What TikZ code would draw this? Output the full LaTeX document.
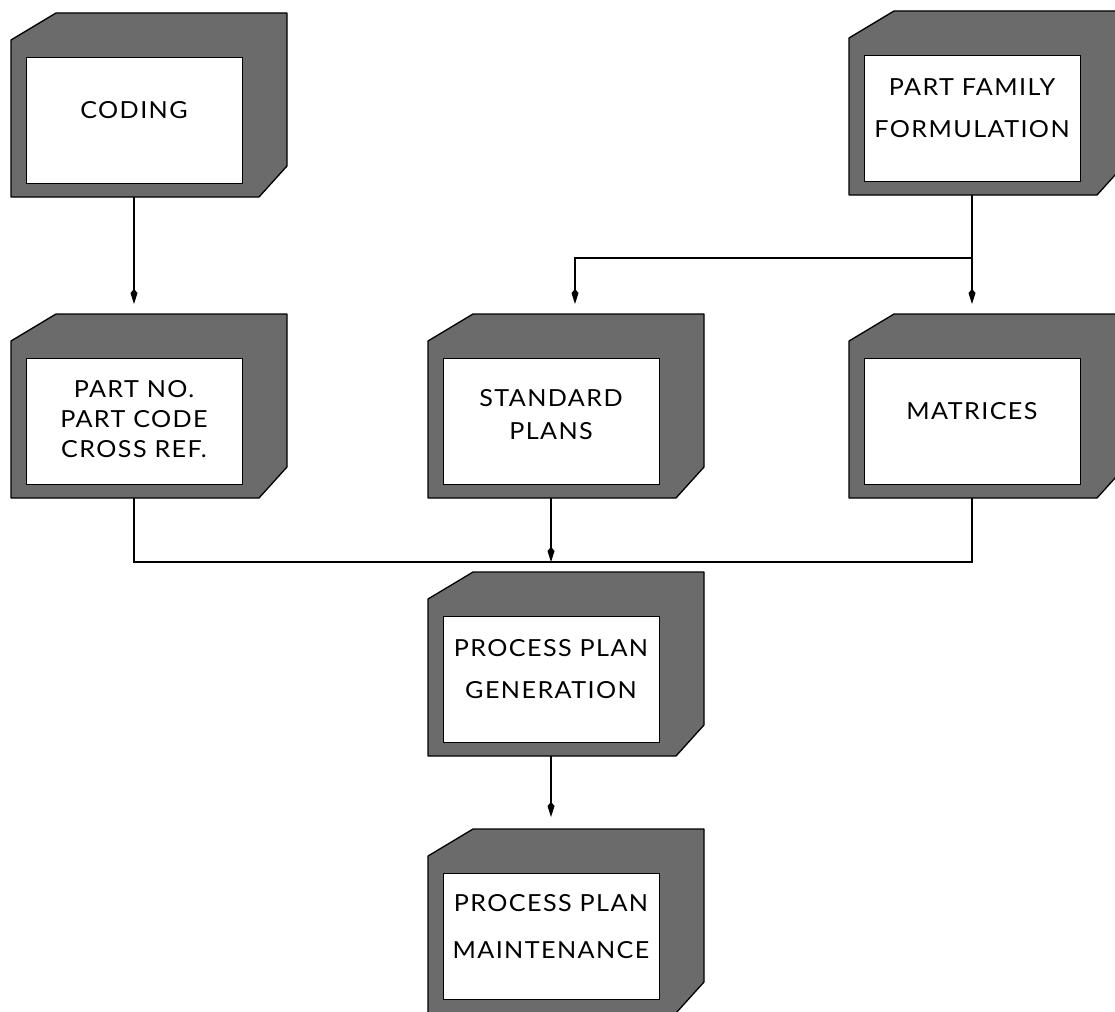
\documentclass[tikz,border=0pt]{standalone}
\usepackage{fontspec}
\newfontfamily\plotfont{Lato}[FakeStretch=1.07,LetterSpace=6]
\usetikzlibrary{calc,arrows.meta}

\pgfdeclarelayer{links}
\pgfdeclarelayer{frames}
\pgfsetlayers{links,frames,main}

\tikzset{
  block/.style={rectangle, draw=black, line width=0.8pt, fill=white,
    minimum width=216pt, minimum height=126pt, inner sep=0pt, outer sep=0pt,
    align=center, font=\plotfont\fontsize{23.5}{42}\selectfont,
    execute at end node={\rule[-#1]{0pt}{0pt}}},
  block/.default=20pt,
  frame/.style={fill=black!58, draw=black, line width=1.3pt, line join=round},
  link/.style={draw=black, line width=1.1pt},
  flow/.style={link, -{Kite[length=15pt,width=7pt,inset=4pt]}},
}

\begin{document}
\begin{tikzpicture}[x=1pt,y=-1pt]
\useasboundingbox (0,0) rectangle (1115,1011);

% the seven blocks
\node[block] (coding) at (134,120) {CODING};
\node[block] (family) at (972,118) {PART FAMILY\\FORMULATION};
\node[block=4pt, font=\plotfont\fontsize{23.5}{30}\selectfont] (partno) at (134,421) {PART NO.\\PART CODE\\CROSS REF.};
\node[block=14pt, font=\plotfont\fontsize{23.5}{33}\selectfont] (standard) at (551,421) {STANDARD\\PLANS};
\node[block] (matrices) at (972,421) {MATRICES};
\node[block] (generation) at (551,679) {PROCESS PLAN\\GENERATION};
\node[block, font=\plotfont\fontsize{23.5}{47}\selectfont] (maintenance) at (551,936) {PROCESS PLAN\\MAINTENANCE};

% shaded frames behind the blocks
\begin{pgfonlayer}{frames}
\foreach \b in {coding,family,partno,standard,matrices,generation,maintenance}
  \path[frame] ($(\b.north west)+(-15,-17)$) -- ($(\b.north west)+(30,-44)$)
    -- ($(\b.north east)+(45,-44)$) -- ($(\b.south east)+(45,-17)$)
    -- ($(\b.south east)+(17,14)$) -- ($(\b.south west)+(-15,14)$) -- cycle;
\end{pgfonlayer}

% connectors
\coordinate (split) at (972,258);
\coordinate (merge) at (551,562);
\begin{pgfonlayer}{links}
\draw[flow, shorten >=54pt] (coding) -- (partno);
\draw[flow, shorten >=54pt] (family) -- (matrices);
\draw[flow, shorten >=54pt] (split) -| ([xshift=24pt]standard.north);
\draw[link] (partno.south) |- (merge) -| (matrices.south);
\draw[flow] (standard.south) -- (merge);
\draw[flow, shorten >=56pt] (generation) -- (maintenance);
\end{pgfonlayer}
\end{tikzpicture}
\end{document}
